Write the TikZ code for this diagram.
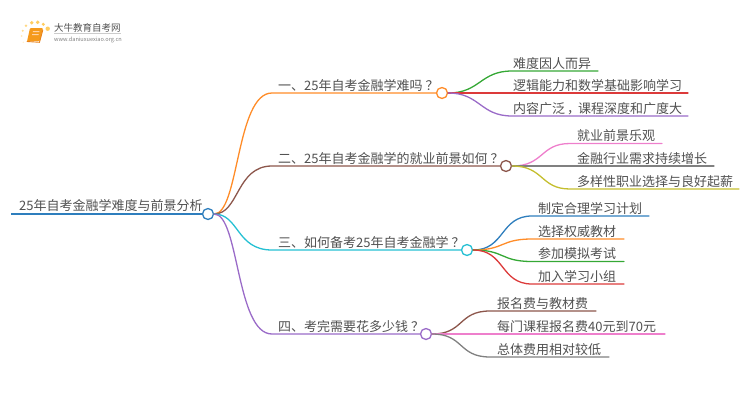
\documentclass[tikz,border=0pt]{standalone}
\usepackage{fontspec}
\setmainfont{Noto Sans CJK SC}
\definecolor{tx}{HTML}{505050}
\definecolor{cblue}{HTML}{2E7EBD}
\definecolor{corange}{HTML}{FF8C28}
\definecolor{cbrown}{HTML}{8C564B}
\definecolor{ccyan}{HTML}{25C0D3}
\definecolor{cpurple}{HTML}{9A6BC8}
\definecolor{cgreen}{HTML}{35A835}
\definecolor{cred}{HTML}{DC3A3A}
\definecolor{cpink}{HTML}{EE7FCC}
\definecolor{cgray}{HTML}{808080}
\definecolor{colive}{HTML}{C4BE2E}
\definecolor{cdot}{HTML}{FFC850}
\definecolor{cbook}{HTML}{F59A1C}
\definecolor{cbookd}{HTML}{E8821A}
\newcommand{\qm}{\kern3pt？}
\tikzset{
  x=1pt,y=-1pt,
  lbl/.style={anchor=base west,inner sep=0pt,text=tx,font=\fontsize{13}{13}\selectfont},
  hub/.style={circle,draw=#1,fill=white,line width=1.3pt,minimum size=11pt,inner sep=0pt},
  wire/.style={draw=#1,line width=1.3pt,line cap=round},
}
\begin{document}
\begin{tikzpicture}
\useasboundingbox (0,0) rectangle (750,410);
% logo
\foreach \px/\py/\r/\o in {47.7/28.7/2.2/.9,37.7/22.3/1.9/.9,31.7/22.7/1.9/.9,43.3/24.3/1.7/.9,26/25.7/1.4/.7,22.7/30.7/1.1/.6,21.7/36/1/.4,23.3/42.3/.8/.25}{
  \fill[cdot,opacity=\o] (\px,\py) circle (\r);}
\fill[cbook,rounded corners=1pt] (30,28) -- (43,28) -- (40,41) -- (27,41.5) -- cycle;
\draw[cbookd,line width=.9pt,line cap=round] (27,41.5) -- (39.5,42.3) -- (42.8,30);
\fill[white!65!orange] (33,31) -- (39.5,31) -- (39.2,32.2) -- (32.7,32.2) -- cycle;
\fill[white!65!orange] (32.3,34) -- (38.8,34) -- (38.5,35.2) -- (32,35.2) -- cycle;
\node[anchor=base west,inner sep=0pt,text=tx,font=\fontsize{9.5}{10}\selectfont] (logoa) at (54,31) {大牛教育自考网};
\node[anchor=base west,inner sep=0pt,text=gray,font=\fontsize{5.6}{6}\selectfont] (logob) at (54,41) {www.daniuxuexiao.org.cn};
\draw[black!20,line width=.5pt] (54,33.5) -- (121,33.5);
% hubs' positions
\coordinate (rs) at (11,214);
\coordinate (b1) at (272,93);
\coordinate (b2) at (272,166);
\coordinate (b3) at (272,250);
\coordinate (b4) at (272,334);
\node[hub=cblue] (root) at (208,214) {};
\node[hub=corange] (h1) at (442,93) {};
\node[hub=cbrown] (h2) at (506,166) {};
\node[hub=ccyan] (h3) at (467,250) {};
\node[hub=cpurple] (h4) at (426,334) {};
% root
\draw[wire=cblue,line width=2.2pt,line cap=butt] (rs) -- (root.west);
\node[lbl] (rt) at (19,210) {25年自考金融学难度与前景分析};
% main branches
\draw[wire=corange] (root.east) .. controls +(25,0) and (236,93) .. (b1) -- (h1.west);
\draw[wire=cbrown] (root.east) .. controls +(25,0) and (236,166) .. (b2) -- (h2.west);
\draw[wire=ccyan] (root.east) .. controls +(25,0) and (236,250) .. (b3) -- (h3.west);
\draw[wire=cpurple] (root.east) .. controls +(25,0) and (236,334) .. (b4) -- (h4.west);
\node[lbl] (t1) at (278,90) {一、25年自考金融学难吗\qm};
\node[lbl] (t2) at (278,163) {二、25年自考金融学的就业前景如何\qm};
\node[lbl] (t3) at (278,247) {三、如何备考25年自考金融学\qm};
\node[lbl] (t4) at (278,331) {四、考完需要花多少钱\qm};
% leaves: hub 1
\coordinate (a1s) at (512,71); \coordinate (a1e) at (598,71);
\coordinate (a2e) at (688,93);
\coordinate (a3s) at (512,116); \coordinate (a3e) at (688,116);
\draw[wire=cgreen] (h1.east) .. controls +(32,0) and (480,71) .. (a1s) -- (a1e);
\draw[wire=cred] (h1.east) -- (a2e);
\draw[wire=cpurple] (h1.east) .. controls +(32,0) and (480,116) .. (a3s) -- (a3e);
\node[lbl] (a1) at (513,68) {难度因人而异};
\node[lbl] (a2) at (513,90) {逻辑能力和数学基础影响学习};
\node[lbl] (a3) at (513,113) {内容广泛\kern2pt，\kern-2pt 课程深度和广度大};
% leaves: hub 2
\coordinate (c1s) at (570,143.5); \coordinate (c1e) at (662,143.5);
\coordinate (c2e) at (714,166);
\coordinate (c3s) at (570,189); \coordinate (c3e) at (739,189);
\draw[wire=cpink] (h2.east) .. controls +(32,0) and (540,143.5) .. (c1s) -- (c1e);
\draw[wire=cgray] (h2.east) -- (c2e);
\draw[wire=colive] (h2.east) .. controls +(32,0) and (540,189) .. (c3s) -- (c3e);
\node[lbl] (c1) at (577,140.5) {就业前景乐观};
\node[lbl] (c2) at (577,163) {金融行业需求持续增长};
\node[lbl] (c3) at (577,186) {多样性职业选择与良好起薪};
% leaves: hub 3
\coordinate (d1s) at (532,216); \coordinate (d1e) at (649,216);
\coordinate (d2s) at (532,239); \coordinate (d2e) at (624,239);
\coordinate (d3s) at (532,261.5); \coordinate (d3e) at (624,261.5);
\coordinate (d4s) at (532,284); \coordinate (d4e) at (624,284);
\draw[wire=cblue] (h3.east) .. controls +(32,0) and (500,216) .. (d1s) -- (d1e);
\draw[wire=corange] (h3.east) .. controls +(32,0) and (500,239) .. (d2s) -- (d2e);
\draw[wire=cgreen] (h3.east) .. controls +(32,0) and (500,261.5) .. (d3s) -- (d3e);
\draw[wire=cred] (h3.east) .. controls +(32,0) and (500,284) .. (d4s) -- (d4e);
\node[lbl] (d1) at (538,213) {制定合理学习计划};
\node[lbl] (d2) at (538,236) {选择权威教材};
\node[lbl] (d3) at (538,258.5) {参加模拟考试};
\node[lbl] (d4) at (538,281) {加入学习小组};
% leaves: hub 4
\coordinate (e1s) at (490,311); \coordinate (e1e) at (596,311);
\coordinate (e2e) at (665,334);
\coordinate (e3s) at (490,357); \coordinate (e3e) at (609,357);
\draw[wire=cbrown] (h4.east) .. controls +(32,0) and (458,311) .. (e1s) -- (e1e);
\draw[wire=cpink] (h4.east) -- (e2e);
\draw[wire=cgray] (h4.east) .. controls +(32,0) and (458,357) .. (e3s) -- (e3e);
\node[lbl] (e1) at (497,308) {报名费与教材费};
\node[lbl] (e2) at (497,331) {每门课程报名费40元到70元};
\node[lbl] (e3) at (497,354) {总体费用相对较低};
\end{tikzpicture}
\end{document}
